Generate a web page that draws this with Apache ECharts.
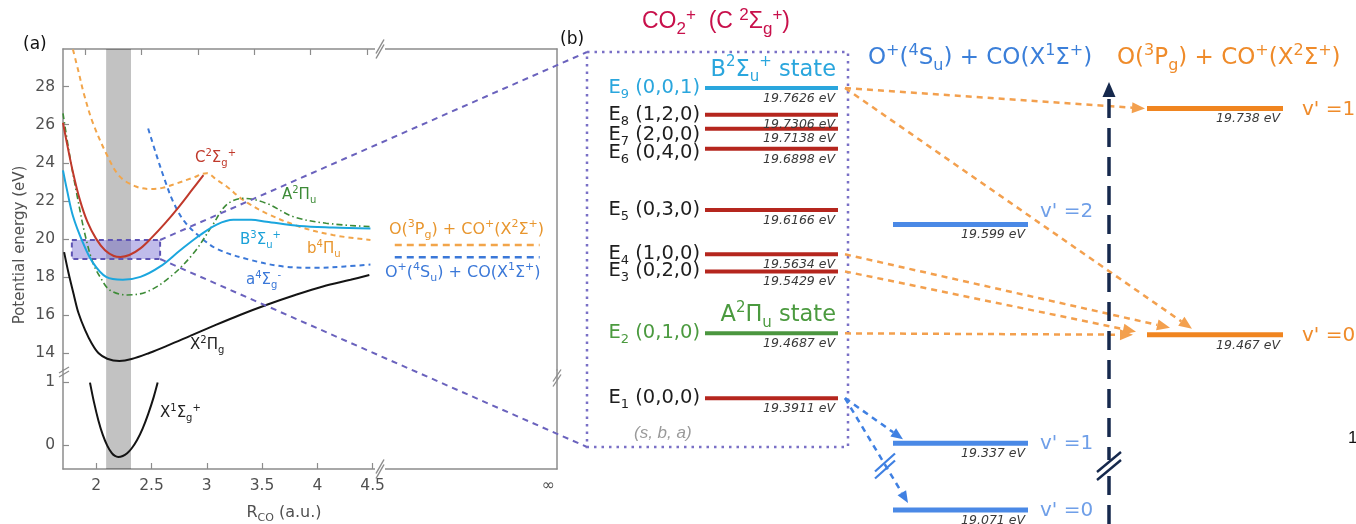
<!DOCTYPE html>
<html><head><meta charset="utf-8">
<script src="https://cdn.jsdelivr.net/npm/echarts@6/dist/echarts.min.js"></script>
<style>html,body{margin:0;padding:0;background:#fff;}#c{width:1356px;height:524px;}</style>
</head><body><div id="c"></div>
<script>
// ================= DATA =================
// Panel (a): potential energy curves, R_CO (a.u.) vs energy (eV)
const R_X1SG = [1.944,1.98,2.02,2.06,2.10,2.14,2.17,2.2,2.24,2.28,2.32,2.37,2.42,2.47,2.52,2.556];
const E_X1SG = [0.99,0.68,0.39,0.16,-0.01,-0.125,-0.174,-0.19,-0.175,-0.13,-0.056,0.079,0.26,0.49,0.76,0.99];
const R_X2PG = [1.71,1.75,1.80,1.84,1.90,1.96,2.02,2.10,2.21,2.32,2.48,2.65,2.85,3.05,3.3,3.55,3.8,4.05,4.3,4.47];
const E_X2PG = [19.3,18.2,17.0,16.1,15.2,14.5,14.0,13.7,13.58,13.68,14.0,14.4,14.9,15.4,16.0,16.55,17.05,17.5,17.85,18.1];
const R_C2SG = [1.70,1.74,1.79,1.85,1.92,2.0,2.08,2.16,2.22,2.3,2.4,2.5,2.62,2.75,2.87,2.97];
const E_C2SG = [26.1,24.9,23.5,22.1,20.9,20.0,19.4,19.1,19.05,19.15,19.5,20.05,20.8,21.7,22.6,23.35];
const R_B2SU = [1.70,1.735,1.79,1.88,1.97,2.09,2.24,2.4,2.58,2.76,2.94,3.09,3.24,3.4,3.54,3.84,4.14,4.48];
const E_B2SU = [23.6,22.6,21.2,19.8,18.75,18.0,17.85,18.0,18.55,19.4,20.2,20.75,21.0,21.0,20.9,20.68,20.6,20.55];
const R_A2PU = [1.70,1.76,1.83,1.90,1.97,2.035,2.125,2.28,2.46,2.67,2.88,3.05,3.18,3.33,3.54,3.78,4.08,4.48];
const E_A2PU = [26.6,24.4,22.2,20.2,18.75,18.0,17.3,17.05,17.22,18.0,19.24,20.7,21.8,22.13,21.87,21.17,20.82,20.64];
const R_B4PU = [1.79,1.84,1.89,1.97,2.09,2.21,2.36,2.5,2.6,2.73,2.87,3.0,3.09,3.18,3.33,3.54,3.84,4.14,4.48];
const E_B4PU = [29.95,28.8,27.6,26.1,24.5,23.3,22.75,22.62,22.68,22.92,23.2,23.45,23.1,22.75,22.04,21.34,20.64,20.2,19.94];
const R_A4SG = [2.47,2.54,2.62,2.70,2.80,2.94,3.10,3.39,3.69,3.99,4.25,4.48];
const E_A4SG = [25.8,24.5,23.1,21.9,20.9,20.1,19.45,18.9,18.55,18.48,18.55,18.65];
const R_ASYM = [4.7, 6.01];
const E_ASYM_O_COP = 19.68;   // O(3Pg) + CO+(X2S+)
const E_ASYM_OP_CO = 19.03;   // O+(4Su) + CO(X1S+)
const FC_BAND_R = [2.09, 2.315];
const ZOOM_R = [1.78, 2.578];
const ZOOM_E = [18.94, 19.94];
const Y_TICKS_UP = [14,16,18,20,22,24,26,28];
const Y_TICKS_LOW = [0,1];
const X_TICKS = [2,2.5,3,3.5,4,4.5];
const X_TICKS_TOP = [1.9,2.41,2.92,3.43,3.94,4.45];
const X_INF = 6.085;

// Panel (b): CO2+ (C 2Sg+) vibrational levels
const LEVEL_NAMES = ['1','2','3','4','5','6','7','8','9'];
const LEVEL_MODES = ['(0,0,0)','(0,1,0)','(0,2,0)','(1,0,0)','(0,3,0)','(0,4,0)','(2,0,0)','(1,2,0)','(0,0,1)'];
const LEVEL_EV = [19.3911,19.4687,19.5429,19.5634,19.6166,19.6898,19.7138,19.7306,19.7626];
const LEVEL_STATE = ['C','A','C','C','C','C','C','C','B'];
// dissociation products
const OPCO_EV = [19.071, 19.337, 19.599];  // O+(4Su)+CO(X1S+), v' = 0,1,2
const OPCO_V = [0,1,2];
const OCOP_EV = [19.467, 19.738];          // O(3Pg)+CO+(X2S+), v' = 0,1
const OCOP_V = [0,1];
// decay arrows (level index -> product v')
const ORANGE_FROM = [8,8,3,2,1];
const ORANGE_TO_V = [1,0,0,0,0];
const BLUE_FROM = [0,0];
const BLUE_TO_V = [1,0];

// ================= LAYOUT / STYLE =================
const F = '"DejaVu Sans", Verdana, sans-serif';
const FA = '"Liberation Sans", Arial, sans-serif';
const COL_CO2 = [705, 838], COL_OPCO = [893, 1028], COL_OCOP = [1147, 1283];
const LABEL_DY = [0,0,0,0,0,4,6,0,0];   // label nudges for crowded levels
const STATE_STYLE = {C:{line:'#b5261e', text:'#1e1e1e'}, A:{line:'#4b963f', text:'#4b9a3f'}, B:{line:'#2aa6dd', text:'#2aa6dd'}};
const C_OPCO = '#4a89e6', C_OCOP = '#f08520';
const ORANGE_END_X = [1145, 1192, 1170, 1136, 1133];
const ORANGE_END_DY = [0, -6, -7, -3, 0];
const BLUE_END_X = [903, 908];
const BLUE_END_DY = [-4, -7];
const ARROW_START_X = 845;

function rt(src) {
  let out = '', buf = '', i = 0;
  const flush = () => { if (buf) { out += '{b|' + buf + '}'; buf = ''; } };
  while (i < src.length) {
    const c = src[i];
    if ((c === '^' || c === '_') && src[i+1] === '{') {
      flush();
      const j = src.indexOf('}', i);
      out += '{' + (c === '^' ? 'sup' : 'sub') + '|' + src.slice(i+2, j) + '}';
      i = j + 1;
    } else { buf += c; i++; }
  }
  flush();
  return out;
}
function rs(size, color, family, italic, scale) {
  const s = Math.round(size * (scale || 0.66));
  const L = Math.round(size * 1.35);
  const base = {fontSize:size, fontFamily:family, fill:color, color:color, lineHeight:L, fontStyle: italic ? 'italic' : 'normal'};
  return {
    b: base,
    sup: Object.assign({}, base, {fontSize:s, lineHeight:s+1, verticalAlign:'top'}),
    sub: Object.assign({}, base, {fontSize:s, lineHeight:s+1, verticalAlign:'bottom'})
  };
}
function rtext(str, x, y, size, color, align, family, italic, scale) {
  return {type:'text', x:x, y:y, z:30, silent:true,
    style:{text: rt(str), rich: rs(size, color, family || F, italic, scale), align: align || 'left', verticalAlign:'middle'}};
}
const zip = (a, b) => a.map((v, i) => [v, b[i]]);

// level table for panel (b)
const LEVELS_B = [], LEVELS_C = [];
LEVEL_EV.forEach((e, i) => {
  const st = STATE_STYLE[LEVEL_STATE[i]];
  LEVELS_B.push({e, x0:COL_CO2[0], x1:COL_CO2[1], color:st.line, w:4, ldy:LABEL_DY[i],
    left: 'E_{' + LEVEL_NAMES[i] + '} ' + LEVEL_MODES[i], leftColor: st.text,
    title: LEVEL_STATE[i] === 'B' ? 'B^{2}Σ_{u}^{+} state' : (LEVEL_STATE[i] === 'A' ? 'A^{2}Π_{u} state' : null), titleColor: st.text});
});
OPCO_EV.forEach((e, i) => {
  const L = {e, x0:COL_OPCO[0], x1:COL_OPCO[1], color:C_OPCO, w:5, v:"v' =" + OPCO_V[i], vColor:'#6f9fe8', vDy: OPCO_V[i] === 2 ? -13 : 1, vDx:12};
  (i === 0 ? LEVELS_C : LEVELS_B).push(L);
});
OCOP_EV.forEach((e, i) => {
  LEVELS_B.push({e, x0:COL_OCOP[0], x1:COL_OCOP[1], color:C_OCOP, w:5, v:"v' =" + OCOP_V[i], vColor:'#ef8b2a', vDy:1, vDx:19});
});

function levelRenderer(table) {
  return function (params, api) {
    const L = table[api.value(0)];
    const e = api.value(1);
    const p0 = api.coord([L.x0, e]), p1 = api.coord([L.x1, e]);
    const ch = [
      {type:'line', shape:{x1:p0[0], y1:p0[1], x2:p1[0], y2:p1[1]}, style:{stroke:L.color, lineWidth:L.w}},
      {type:'text', x:p1[0]-3, y:p0[1]+4, style:{text:String(e) + ' eV', align:'right', verticalAlign:'top',
        font:'italic 12.5px ' + F, fill:'#3a3a3a'}}
    ];
    if (L.left) ch.push({type:'text', x:p0[0]-5, y:p0[1]+(L.ldy||0), style:{text: rt(L.left), rich: rs(19.5, L.leftColor, F, false, 0.67), align:'right', verticalAlign:'middle'}});
    if (L.title) ch.push({type:'text', x:p1[0]-2, y:p0[1]-18, style:{text: rt(L.title), rich: rs(22.5, L.titleColor, F, false, 0.66), align:'right', verticalAlign:'middle'}});
    if (L.v) ch.push({type:'text', x:p1[0]+L.vDx, y:p0[1]+L.vDy, style:{text:L.v, font:'20px ' + F, fill:L.vColor, align:'left', verticalAlign:'middle'}});
    return {type:'group', children:ch};
  };
}

function curve(name, R, E, color, width, type, gi) {
  return {type:'line', name, xAxisIndex:gi||0, yAxisIndex:gi===1?2:0, data: zip(R, E), smooth:0.35, symbol:'none',
    lineStyle:{color, width, type: type || 'solid'}, z:3, silent:true};
}

const axLine = {show:true, onZero:false, lineStyle:{color:'#8c8c8c', width:1.5}};
const axTick = (vals) => ({show:true, inside:true, length:6, customValues:vals, lineStyle:{color:'#8c8c8c', width:1.2}});
const axLab = (vals) => ({show:true, customValues:vals, fontFamily:F, fontSize:15.5, color:'#505050'});

const option = {
  animation:false,
  backgroundColor:'#ffffff',
  grid:[
    {left:63, top:49, width:494, height:321},
    {left:63, top:370, width:494, height:99},
    {left:0, top:0, width:1356, height:524},
    {left:0, top:470, width:1356, height:54}
  ],
  xAxis:[
    {gridIndex:0, type:'value', min:1.7, max:6.167, position:'top', axisLine:axLine, axisTick:axTick(X_TICKS_TOP), axisLabel:{show:false}, splitLine:{show:false}},
    {gridIndex:1, type:'value', min:1.7, max:6.167, position:'bottom', axisLine:axLine, axisTick:axTick(X_TICKS),
      axisLabel:Object.assign(axLab(X_TICKS.concat([X_INF])), {margin:9, formatter: v => v > 5 ? '∞' : String(v)}), splitLine:{show:false}},
    {gridIndex:2, type:'value', min:0, max:1356, show:false},
    {gridIndex:3, type:'value', min:0, max:1356, show:false}
  ],
  yAxis:[
    {gridIndex:0, type:'value', min:13.106, max:29.98, position:'left', axisLine:axLine, axisTick:axTick(Y_TICKS_UP), axisLabel:Object.assign(axLab(Y_TICKS_UP), {margin:8}), splitLine:{show:false}},
    {gridIndex:0, type:'value', min:13.106, max:29.98, position:'right', axisLine:axLine, axisTick:{show:false}, axisLabel:{show:false}, splitLine:{show:false}},
    {gridIndex:1, type:'value', min:-0.381, max:1.19, position:'left', axisLine:axLine, axisTick:axTick(Y_TICKS_LOW), axisLabel:Object.assign(axLab(Y_TICKS_LOW), {margin:8}), splitLine:{show:false}},
    {gridIndex:1, type:'value', min:-0.381, max:1.19, position:'right', axisLine:axLine, axisTick:{show:false}, axisLabel:{show:false}, splitLine:{show:false}},
    {gridIndex:2, type:'value', min:19.24032, max:19.86801, show:false},
    {gridIndex:3, type:'value', min:19.05423, max:19.11892, show:false}
  ],
  series:[
    curve('X1Sg+', R_X1SG, E_X1SG, '#141414', 2, 'solid', 1),
    curve('X2Pg', R_X2PG, E_X2PG, '#141414', 2),
    curve('b4Pu', R_B4PU, E_B4PU, '#f2a54a', 2, [5,4]),
    curve('a4Sg-', R_A4SG, E_A4SG, '#3b78d8', 2, [5,4]),
    curve('A2Pu', R_A2PU, E_A2PU, '#3d8b37', 1.6, [6,3,1.5,3]),
    curve('B2Su+', R_B2SU, E_B2SU, '#1ba6de', 2),
    curve('C2Sg+', R_C2SG, E_C2SG, '#c0392b', 2),
    {type:'line', xAxisIndex:0, yAxisIndex:0, data: R_ASYM.map(r => [r, E_ASYM_O_COP]), symbol:'none', lineStyle:{color:'#f2a54a', width:2.5, type:[7,5]}, silent:true},
    {type:'line', xAxisIndex:0, yAxisIndex:0, data: R_ASYM.map(r => [r, E_ASYM_OP_CO]), symbol:'none', lineStyle:{color:'#3b78d8', width:2.5, type:[7,5]}, silent:true},
    // Franck-Condon band (upper & lower parts)
    {type:'line', xAxisIndex:0, yAxisIndex:0, data:[], z:6, silent:true,
      markArea:{silent:true, itemStyle:{color:'rgba(0,0,0,0.24)'}, data:[[{xAxis:FC_BAND_R[0]}, {xAxis:FC_BAND_R[1]}]]}},
    {type:'line', xAxisIndex:1, yAxisIndex:2, data:[], z:6, silent:true,
      markArea:{silent:true, itemStyle:{color:'rgba(0,0,0,0.24)'}, data:[[{xAxis:FC_BAND_R[0]}, {xAxis:FC_BAND_R[1]}]]}},
    // zoom window
    {type:'line', xAxisIndex:0, yAxisIndex:0, data:[], z:7, silent:true,
      markArea:{silent:true, itemStyle:{color:'rgba(105,95,205,0.42)', borderColor:'#5e54b4', borderWidth:2, borderType:[5,4]},
        data:[[{coord:[ZOOM_R[0], ZOOM_E[1]]}, {coord:[ZOOM_R[1], ZOOM_E[0]]}]]}},
    // panel (b) levels
    {type:'custom', xAxisIndex:2, yAxisIndex:4, z:10, silent:true, renderItem: levelRenderer(LEVELS_B), data: LEVELS_B.map((l, i) => [i, l.e])},
    {type:'custom', xAxisIndex:3, yAxisIndex:5, z:10, silent:true, renderItem: levelRenderer(LEVELS_C), data: LEVELS_C.map((l, i) => [i, l.e])}
  ]
};

const chart = echarts.init(document.getElementById('c'));
chart.setOption(option);

// ---------- overlays computed from the axes ----------
const pB = (x, e) => chart.convertToPixel({gridIndex:2}, [x, e]);
const pC = (x, e) => chart.convertToPixel({gridIndex:3}, [x, e]);
const pA = (r, e) => chart.convertToPixel({gridIndex:0}, [r, e]);
const g = [];

function arrow(p0, p1, color, width, dash, hl, hw) {
  const dx = p1[0]-p0[0], dy = p1[1]-p0[1], len = Math.hypot(dx, dy);
  const ux = dx/len, uy = dy/len;
  const bx = p1[0]-ux*hl, by = p1[1]-uy*hl;
  const px = -uy*hw/2, py = ux*hw/2;
  g.push({type:'line', z:20, silent:true, shape:{x1:p0[0], y1:p0[1], x2:bx, y2:by}, style:{stroke:color, lineWidth:width, lineDash:dash}});
  g.push({type:'polygon', z:21, silent:true, shape:{points:[[p1[0], p1[1]], [bx+px, by+py], [bx-px, by-py]]}, style:{fill:color}});
}
function slashes(cx, cy, color, lw, dx, dy, off) {
  [-off/2, off/2].forEach(o => g.push({type:'line', z:23, silent:true,
    shape:{x1:cx-dx, y1:cy+dy+o, x2:cx+dx, y2:cy-dy+o}, style:{stroke:color, lineWidth:lw}}));
}
function gapMark(cx, cy, w, h) {
  g.push({type:'rect', z:22, silent:true, shape:{x:cx-w/2, y:cy-h/2, width:w, height:h}, style:{fill:'#fff'}});
}

// zoom connectors from the window in (a) to the box of (b)
const BOX = {x:587, y:52, w:261, h:395};
const zTR = pA(ZOOM_R[1], ZOOM_E[1]), zBR = pA(ZOOM_R[1], ZOOM_E[0]);
g.push({type:'line', z:8, silent:true, shape:{x1:zTR[0], y1:zTR[1], x2:BOX.x, y2:BOX.y}, style:{stroke:'#6a62bd', lineWidth:2, lineDash:[6,5]}});
g.push({type:'line', z:8, silent:true, shape:{x1:zBR[0], y1:zBR[1], x2:BOX.x, y2:BOX.y+BOX.h}, style:{stroke:'#6a62bd', lineWidth:2, lineDash:[6,5]}});
g.push({type:'rect', z:9, silent:true, shape:{x:BOX.x, y:BOX.y, width:BOX.w, height:BOX.h}, style:{fill:'none', stroke:'#7a70c6', lineWidth:2.5, lineDash:[2.5,5]}});

// decay arrows
ORANGE_FROM.forEach((li, k) => {
  const e1 = OCOP_EV[OCOP_V.indexOf(ORANGE_TO_V[k])];
  const a = pB(ARROW_START_X, LEVEL_EV[li]);
  const b = pB(ORANGE_END_X[k], e1); b[1] += ORANGE_END_DY[k];
  arrow(a, b, '#f3a04e', 2.5, [6,5], 13, 11);
});
BLUE_FROM.forEach((li, k) => {
  const v = BLUE_TO_V[k];
  const e1 = OPCO_EV[OPCO_V.indexOf(v)];
  const a = pB(ARROW_START_X, LEVEL_EV[li]);
  const b = (v === 0 ? pC : pB)(BLUE_END_X[k], e1); b[1] += BLUE_END_DY[k];
  arrow(a, b, '#3f80e2', 2.5, [6,5], 12, 10);
});
slashes(885, 466, '#3f80e2', 2.2, 10, 9, 7);

// energy axis arrow
g.push({type:'line', z:20, silent:true, shape:{x1:1109, y1:524, x2:1109, y2:96}, style:{stroke:'#16294d', lineWidth:3.5, lineDash:[19,10]}});
g.push({type:'polygon', z:21, silent:true, shape:{points:[[1109,82],[1102.5,97],[1115.5,97]]}, style:{fill:'#16294d'}});
gapMark(1109, 466, 10, 12);
slashes(1109, 466, '#16294d', 2.4, 12, 10, 8);

// axis break marks in (a)
gapMark(380, 49, 10, 6); slashes(380, 49, '#8c8c8c', 1.5, 4, 7, 5);
gapMark(380, 469, 10, 6); slashes(380, 469, '#8c8c8c', 1.5, 4, 7, 5);
slashes(557, 378, '#8c8c8c', 1.3, 4, 6, 5);
slashes(64, 372, '#8c8c8c', 1.3, 5, 3, 4);

// texts, panel (a)
g.push({type:'text', x:23, y:45, z:30, style:{text:'(a)', font:'17px ' + F, fill:'#111', verticalAlign:'middle'}});
g.push({type:'text', x:20, y:245, z:30, rotation:Math.PI/2, style:{text:'Potential energy (eV)', font:'15px ' + F, fill:'#505050', align:'center', verticalAlign:'middle'}});
g.push(rtext('R_{CO} (a.u.)', 284, 513, 16, '#505050', 'center'));
g.push(rtext('C^{2}Σ_{g}^{+}', 195, 158, 15, '#c0392b'));
g.push(rtext('A^{2}Π_{u}', 282, 195, 15, '#3d8b37'));
g.push(rtext('B^{3}Σ_{u}^{+}', 240, 240, 15, '#1ba1d8'));
g.push(rtext('b^{4}Π_{u}', 307, 249, 15, '#e8962e'));
g.push(rtext('a^{4}Σ_{g}^{-}', 246, 280, 15, '#3b78d8'));
g.push(rtext('X^{2}Π_{g}', 190, 345, 15, '#222'));
g.push(rtext('X^{1}Σ_{g}^{+}', 160, 413, 15, '#222'));
g.push(rtext('O(^{3}P_{g}) + CO^{+}(X^{2}Σ^{+})', 389, 230, 16, '#e8962e', 'left', F, false, 0.7));
g.push(rtext('O^{+}(^{4}S_{u}) + CO(X^{1}Σ^{+})', 385, 273, 16, '#3b78d8', 'left', F, false, 0.7));

// texts, panel (b)
g.push({type:'text', x:560, y:40, z:30, style:{text:'(b)', font:'17px ' + F, fill:'#111', verticalAlign:'middle'}});
g.push(rtext('CO_{2}^{+}  (C ^{2}Σ_{g}^{+})', 716, 22, 23, '#c8104b', 'center', FA, false, 0.72));
g.push(rtext('O^{+}(^{4}S_{u}) + CO(X^{1}Σ^{+})', 868, 58, 23, '#3b7fd9', 'left', F, false, 0.7));
g.push(rtext('O(^{3}P_{g}) + CO^{+}(X^{2}Σ^{+})', 1117, 58, 23, '#ef8b2a', 'left', F, false, 0.7));
g.push({type:'text', x:634, y:433, z:30, style:{text:'(s, b, a)', font:'italic 17px ' + FA, fill:'#9a9a9a', verticalAlign:'middle'}});
g.push({type:'text', x:1348, y:438, z:30, style:{text:'1', font:'17px ' + FA, fill:'#111', verticalAlign:'middle'}});

chart.setOption({graphic: g});
</script>
</body></html>
